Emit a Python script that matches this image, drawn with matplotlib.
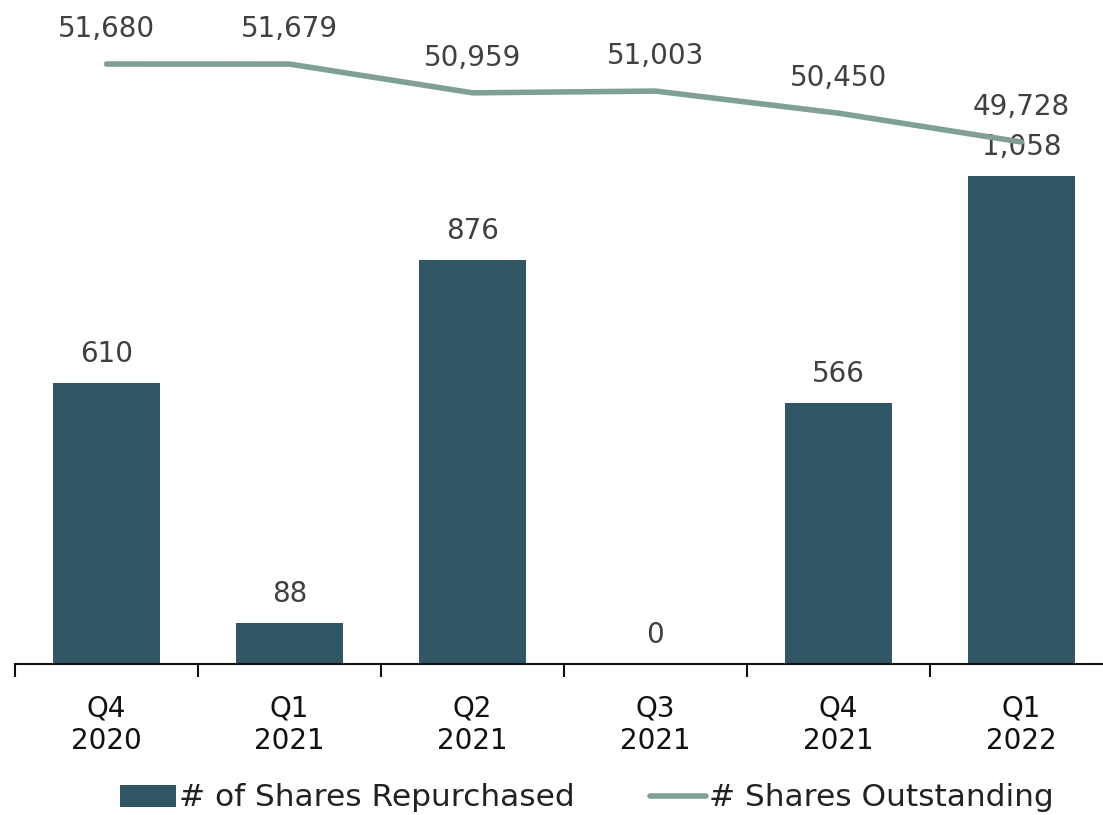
import matplotlib
matplotlib.use("Agg")
import matplotlib.pyplot as plt
import numpy as np

quarters = ["Q4\n2020", "Q1\n2021", "Q2\n2021", "Q3\n2021", "Q4\n2021", "Q1\n2022"]
repurchased = [610, 88, 876, 0, 566, 1058]
outstanding = [51680, 51679, 50959, 51003, 50450, 49728]

BAR_COLOR = "#315665"
LINE_COLOR = "#7fa092"
TEXT_COLOR = "#404040"

plt.rcParams["font.family"] = ["DejaVu Sans"]

fig = plt.figure(figsize=(11.03, 8.15), dpi=100)
# axes: left edge x=15px, bottom spine at y=664px, extends slightly past right edge
ax = fig.add_axes([15 / 1103, 1 - 664 / 815, 1098 / 1103, 664 / 815])
ax2 = ax.twinx()

x = np.arange(len(quarters))
bars = ax.bar(x, repurchased, width=0.58, color=BAR_COLOR, zorder=2,
              label="# of Shares Repurchased")
ax.set_xlim(-0.5, len(quarters) - 0.5)
ax.set_ylim(0, 1441)

for xi, v in zip(x, repurchased):
    ax.annotate(f"{v:,}", (xi, v), xytext=(0, 11), textcoords="offset points",
                ha="center", va="bottom", fontsize=20, color=TEXT_COLOR)

line, = ax2.plot(x, outstanding, color=LINE_COLOR, linewidth=4,
                 solid_capstyle="round", label="# Shares Outstanding", zorder=3)
ax2.set_ylim(36665, 53282)
for xi, v in zip(x, outstanding):
    ax2.annotate(f"{v:,}", (xi, v), xytext=(0, 15), textcoords="offset points",
                 ha="center", va="bottom", fontsize=20, color=TEXT_COLOR)

# ticks between categories
ax.set_xticks(x)
ax.set_xticklabels(quarters, fontsize=20, color="#111111", linespacing=1.2)
ax.tick_params(axis="x", length=0, pad=22)
ax.set_xticks(np.arange(len(quarters)) - 0.5, minor=True)
ax.tick_params(axis="x", which="minor", length=9, width=1.5, color="#111111")
ax.set_yticks([])
ax2.set_yticks([])
for a in (ax, ax2):
    for s in ("top", "right", "left", "bottom"):
        a.spines[s].set_visible(False)
ax.spines["bottom"].set_visible(True)
ax.spines["bottom"].set_linewidth(1.5)
ax.spines["bottom"].set_color("#111111")

fig.legend(handles=[bars, line], loc="center", bbox_to_anchor=(0.532, 1 - 798 / 815),
           ncol=2, frameon=False, fontsize=22.5, handlelength=1.8,
           handletextpad=0.1, columnspacing=2.4, labelcolor="#222222")

fig.savefig("out.png", dpi=100)
